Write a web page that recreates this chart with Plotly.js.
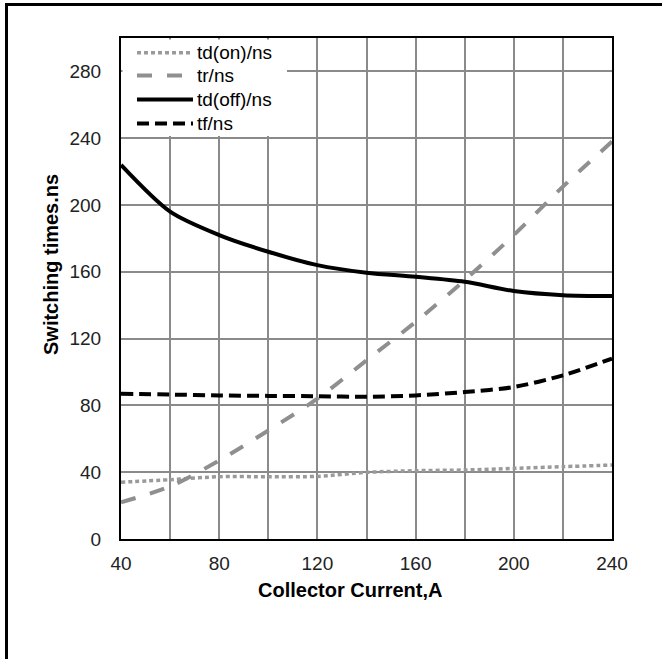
<!DOCTYPE html>
<html>
<head>
<meta charset="utf-8">
<script src="https://cdn.plot.ly/plotly-3.0.1.min.js"></script>
<style>
html,body{margin:0;padding:0;background:#fff;}
#wrap{position:relative;width:662px;height:659px;overflow:hidden;}
#chart{position:absolute;left:0;top:0;width:662px;height:659px;}
#frame{position:absolute;left:5px;top:3px;width:700px;height:700px;border-left:3px solid #000;border-top:3px solid #000;pointer-events:none;}
</style>
</head>
<body>
<div id="wrap"><div id="chart"></div><div id="frame"></div></div>
<script>
// Collector current (A)
const current = [40, 60, 80, 100, 120, 140, 160, 180, 200, 220, 240];
// Switching times (ns)
const tdOn  = [34, 35.5, 37.3, 37.3, 37.5, 39.9, 40.9, 41.3, 42.3, 43.3, 44.3];
const tr    = [22, 31.5, 47, 65, 84, 107, 130, 155, 182, 211, 238];
const tdOff = [224, 196, 182, 172, 164, 159.5, 157, 154, 148.5, 146, 145.5];
const tf    = [87, 86.5, 86, 85.7, 85.5, 85.2, 86, 88, 91, 98, 108];
const seriesNames = ["td(on)/ns", "tr/ns", "td(off)/ns", "tf/ns"];
const xTicks = [40, 80, 120, 160, 200, 240];
const yTicks = [0, 40, 80, 120, 160, 200, 240, 280];
const xTitle = "Collector Current,A";
const yTitle = "Switching times.ns";

const FONT = "Liberation Sans, Arial, sans-serif";

const lineStyles = [
  {color: "#9a9a9a", width: 3.5, dash: "4px,3px"},
  {color: "#8f8f8f", width: 4, dash: "15px,15px"},
  {color: "#000000", width: 4, dash: "solid"},
  {color: "#000000", width: 4, dash: "12px,6px"}
];
const seriesY = [tdOn, tr, tdOff, tf];

const traces = seriesY.map((ys, i) => ({
  x: current, y: ys, name: seriesNames[i], mode: "lines", showlegend: false,
  line: Object.assign({shape: "spline", smoothing: 0.8}, lineStyles[i])
}));

// plot-area geometry (pixels) for the in-plot legend box
const PL = 121, PR = 612, PT = 38, PB = 539;
const px = v => (v - PL) / (PR - PL);
const py = v => (PB - v) / (PB - PT);

const shapes = [
  {type: "rect", xref: "paper", yref: "paper", layer: "above",
   x0: px(122.5), x1: px(287), y0: py(136), y1: py(39.5),
   fillcolor: "#ffffff", line: {width: 0}}
];
const annotations = [
  {text: "<b>" + xTitle + "</b>", xref: "paper", yref: "paper",
   x: px(349.5), y: py(590), xanchor: "center", yanchor: "middle",
   showarrow: false, font: {family: FONT, size: 20, color: "#000"}},
  {text: "<b>" + yTitle + "</b>", xref: "paper", yref: "paper",
   x: px(51), y: py(265), xanchor: "center", yanchor: "middle",
   textangle: -90, showarrow: false, font: {family: FONT, size: 20, color: "#000"}}
];
const legendRows = [52.7, 75.5, 99.5, 123.5];
seriesNames.forEach((nm, i) => {
  shapes.push({type: "line", xref: "paper", yref: "paper", layer: "above",
    x0: px(137), x1: px(193), y0: py(legendRows[i]), y1: py(legendRows[i]),
    line: {color: lineStyles[i].color, width: lineStyles[i].width, dash: lineStyles[i].dash}});
  annotations.push({text: nm, xref: "paper", yref: "paper", x: px(195), y: py(legendRows[i]),
    xanchor: "left", yanchor: "middle", showarrow: false,
    font: {family: FONT, size: 19, color: "#000"}});
});

const layout = {
  width: 662, height: 659,
  margin: {l: 121, r: 50, t: 38, b: 120, pad: 0},
  paper_bgcolor: "#ffffff", plot_bgcolor: "#ffffff",
  font: {family: FONT, size: 19, color: "#000"},
  showlegend: false,
  xaxis: {range: [40, 240], tickvals: xTicks, ticktext: xTicks.map(String),
          showgrid: true, gridcolor: "#8a8a8a", gridwidth: 2,
          minor: {dtick: 20, showgrid: true, gridcolor: "#8a8a8a", gridwidth: 2},
          showline: true, linecolor: "#000", linewidth: 2, mirror: true,
          ticks: "", ticklabelstandoff: 6, zeroline: false,
          tickfont: {family: FONT, size: 19, color: "#222"}},
  yaxis: {range: [0, 300], tickvals: yTicks, ticktext: yTicks.map(String),
          showgrid: true, gridcolor: "#8a8a8a", gridwidth: 2,
          showline: true, linecolor: "#000", linewidth: 2, mirror: true,
          ticks: "", ticklabelstandoff: 14, zeroline: false,
          tickfont: {family: FONT, size: 19, color: "#222"}},
  shapes: shapes,
  annotations: annotations
};

Plotly.newPlot("chart", traces, layout, {displayModeBar: false, staticPlot: true});
</script>
</body>
</html>
